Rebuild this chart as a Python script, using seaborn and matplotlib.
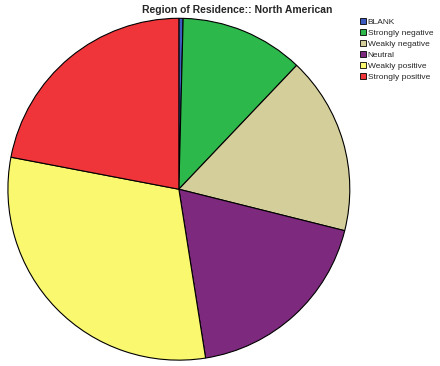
import matplotlib
matplotlib.use("Agg")
import matplotlib.pyplot as plt
import seaborn as sns

# Response shares (percent), clockwise from 12 o'clock
categories = ['BLANK', 'Strongly negative', 'Weakly negative', 'Neutral',
              'Weakly positive', 'Strongly positive']
shares = [0.4, 11.7, 16.8, 18.6, 30.5, 22.0]
colores = ['#3B5BBE', '#2DB84B', '#D4CF9A', '#7D2A7E', '#FAF86F', '#F0353A']

sns.set_style("white")
palette = sns.color_palette(colores)

fig = plt.figure(figsize=(4.4, 3.66), dpi=100)
ax = fig.add_axes([0.018, 0.016, 0.777, 0.934])

wedges, _ = ax.pie(shares, colors=palette, startangle=90, counterclock=False,
                   wedgeprops=dict(edgecolor='black', linewidth=0.8))
ax.set_xlim(-1.0, 1.0)
ax.set_ylim(-1.0, 1.0)
ax.set_aspect('auto')

fig.text(0.538, 0.972, 'Region of Residence:: North American', ha='center', va='center',
         fontsize=7.5, fontweight='bold', family='Liberation Sans')

leg = fig.legend(wedges, categories, loc='upper left', bbox_to_anchor=(0.818, 0.952),
                 frameon=False, handlelength=0.75, handleheight=0.9,
                 handletextpad=0.2, labelspacing=0.32, borderpad=0, borderaxespad=0,
                 prop={'family': 'Liberation Sans', 'size': 6})
for h in leg.legend_handles:
    h.set_linewidth(0.6)

fig.savefig('out.png', dpi=100)
